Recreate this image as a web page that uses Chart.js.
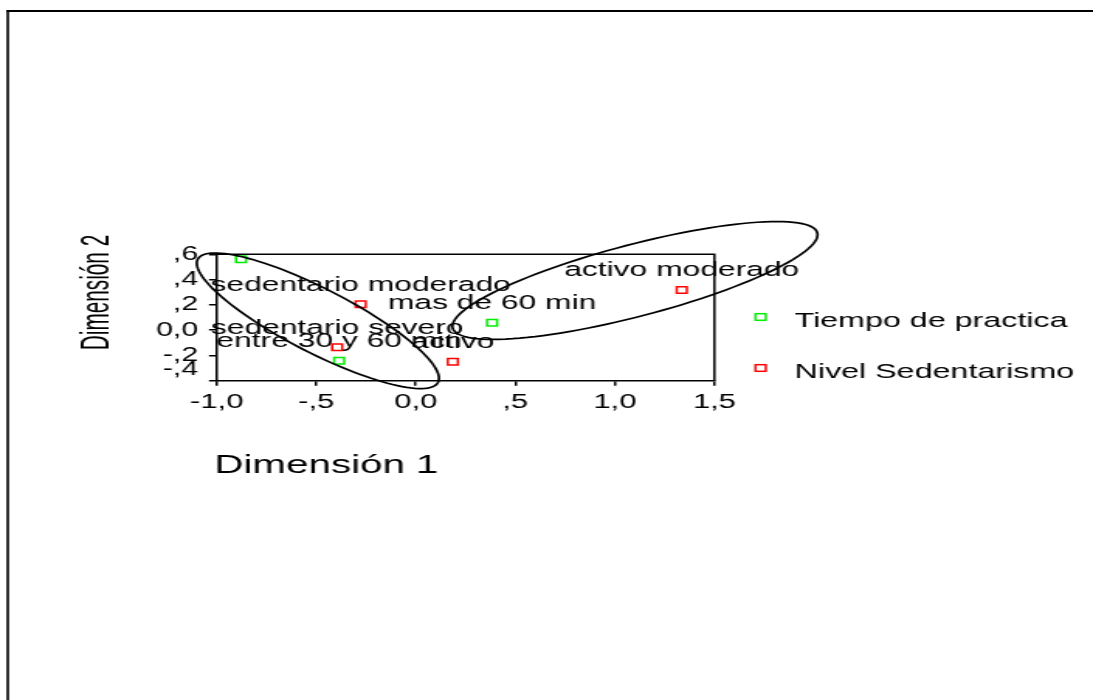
<!DOCTYPE html>
<html>
<head>
<meta charset="utf-8">
<script src="https://cdn.jsdelivr.net/npm/chart.js@4.4.1/dist/chart.umd.min.js"></script>
<style>
  body { margin: 0; background: #fff; overflow: hidden; }
  /* the reference is stretched sideways, so the canvas is drawn narrow and widened */
  #wrap { width: 705px; height: 700px; transform: scaleX(1.55035); transform-origin: 0 0; }
</style>
</head>
<body>
<div id="wrap"><canvas id="chart" width="705" height="700"></canvas></div>
<script>
// Tiempo de practica (verde)
const tiempoX = [-0.878, -0.385, 0.383];
const tiempoY = [0.56, -0.242, 0.059];
const tiempoLabels = ['', 'entre 30 y 60 min', 'mas de 60 min'];

// Nivel Sedentarismo (rojo)
const nivelX = [-0.277, -0.395, 0.186, 1.336];
const nivelY = [0.204, -0.136, -0.25, 0.318];
const nivelLabels = ['sedentario moderado', 'sedentario severo', 'activo', 'activo moderado'];

const xTickLabels = ['-1,0', '-,5', '0,0', ',5', '1,0', '1,5'];
const yTickLabels = ['-,4', '-,2', '0,0', ',2', ',4', ',6'];

// elipses en unidades de las dimensiones: centro, semieje a, semieje b
const elipseCentros = [[-0.492, 0.074], [1.101, 0.393]];
const elipseEjeA = [[0.604, -0.486], [0.916, 0.376]];
const elipseEjeB = [[-0.073, -0.227], [0.0455, -0.2756]];

const FONT = "'Liberation Sans', Arial, sans-serif";

const toPoints = (xs, ys, labels) => xs.map((v, i) => ({ x: v, y: ys[i], label: labels[i] }));

const overlay = {
  id: 'overlay',
  afterDraw(chart) {
    const { ctx, chartArea: a, scales: { x, y } } = chart;
    ctx.save();

    // marco exterior
    ctx.fillStyle = '#000';
    ctx.fillRect(4.2, 10, 1.6, 700);
    ctx.fillRect(4.2, 10, 700.8, 2);

    // lado superior y derecho del area
    ctx.strokeStyle = '#000';
    ctx.lineWidth = 1.5;
    ctx.beginPath();
    ctx.moveTo(a.left, a.top);
    ctx.lineTo(a.right, a.top);
    ctx.lineTo(a.right, a.bottom);
    ctx.stroke();

    // el ultimo rotulo del eje y va algo mas arriba, como en SPSS
    ctx.fillStyle = '#000';
    ctx.font = `19.5px ${FONT}`;
    ctx.textAlign = 'right';
    ctx.textBaseline = 'middle';
    ctx.fillText(yTickLabels[0], a.left - 12, y.getPixelForValue(-0.4) - 11);

    // elipses
    ctx.lineWidth = 1.7;
    elipseCentros.forEach((c, k) => {
      const A = elipseEjeA[k], B = elipseEjeB[k];
      ctx.beginPath();
      for (let i = 0; i <= 120; i++) {
        const t = i / 120 * Math.PI * 2;
        const px = x.getPixelForValue(c[0] + A[0] * Math.cos(t) + B[0] * Math.sin(t));
        const py = y.getPixelForValue(c[1] + A[1] * Math.cos(t) + B[1] * Math.sin(t));
        if (i === 0) ctx.moveTo(px, py); else ctx.lineTo(px, py);
      }
      ctx.closePath();
      ctx.stroke();
    });

    // etiquetas de los puntos
    ctx.font = `20.5px ${FONT}`;
    ctx.textAlign = 'center';
    ctx.textBaseline = 'alphabetic';
    chart.data.datasets.forEach(ds => {
      ds.data.forEach(p => {
        if (p.label) ctx.fillText(p.label, x.getPixelForValue(p.x), y.getPixelForValue(p.y) - 13.5);
      });
    });

    // titulo eje x
    ctx.textAlign = 'left';
    ctx.font = `26px ${FONT}`;
    ctx.fillText('Dimensión 1', a.left - 1.5, 473);

    // titulo eje y (estrecho y alto)
    ctx.save();
    ctx.translate(63.2, 292.5);
    ctx.scale(1, 0.83);
    ctx.rotate(-Math.PI / 2);
    ctx.textAlign = 'center';
    ctx.textBaseline = 'middle';
    ctx.font = `25px ${FONT}`;
    ctx.fillText('Dimensión 2', 0, 0);
    ctx.restore();

    // leyenda
    ctx.font = `20.8px ${FONT}`;
    ctx.textAlign = 'left';
    const legendY = [317, 368];
    chart.data.datasets.forEach((ds, i) => {
      ctx.strokeStyle = ds.pointBorderColor;
      ctx.lineWidth = 1.5;
      ctx.strokeRect(490.6 - 3.3, legendY[i] - 3.3, 6.6, 6.6);
      ctx.fillStyle = '#000';
      ctx.fillText(ds.label, 512.5, legendY[i] + 9.5);
    });

    ctx.restore();
  }
};

new Chart(document.getElementById('chart'), {
  type: 'scatter',
  data: {
    datasets: [
      {
        label: 'Tiempo de practica',
        data: toPoints(tiempoX, tiempoY, tiempoLabels),
        pointStyle: 'rect',
        pointRadius: 4.6,
        pointBorderWidth: 1.5,
        pointBorderColor: '#00ee00',
        pointBackgroundColor: 'rgba(0,0,0,0)'
      },
      {
        label: 'Nivel Sedentarismo',
        data: toPoints(nivelX, nivelY, nivelLabels),
        pointStyle: 'rect',
        pointRadius: 4.6,
        pointBorderWidth: 1.5,
        pointBorderColor: '#ff0000',
        pointBackgroundColor: 'rgba(0,0,0,0)'
      }
    ]
  },
  options: {
    responsive: false,
    devicePixelRatio: 1,
    animation: false,
    events: [],
    layout: { padding: { left: 79.8, top: 254.3, right: 244.2, bottom: 279.3 } },
    plugins: { legend: { display: false }, tooltip: { enabled: false } },
    scales: {
      x: {
        type: 'linear',
        min: -1, max: 1.5,
        afterFit: s => { s.height = 40; },
        border: { display: true, color: '#000', width: 1.5 },
        grid: { drawOnChartArea: false, drawTicks: true, tickLength: 5, color: '#000', lineWidth: 1.5 },
        ticks: {
          stepSize: 0.5, padding: 5, color: '#000', maxRotation: 0, autoSkip: false,
          font: { family: FONT, size: 20 },
          callback: (v, i) => xTickLabels[i]
        }
      },
      y: {
        type: 'linear',
        min: -0.4, max: 0.6,
        afterFit: s => { s.width = 60; },
        border: { display: true, color: '#000', width: 1.5 },
        grid: { drawOnChartArea: false, drawTicks: true, tickLength: 5, color: '#000', lineWidth: 1.5 },
        ticks: {
          stepSize: 0.2, padding: 7, autoSkip: false,
          // el rotulo -,4 se dibuja aparte, mas arriba
          color: c => (c.index === 0 ? 'rgba(0,0,0,0)' : '#000'),
          font: { family: FONT, size: 19.5 },
          callback: (v, i) => yTickLabels[i]
        }
      }
    }
  },
  plugins: [overlay]
});
</script>
</body>
</html>
